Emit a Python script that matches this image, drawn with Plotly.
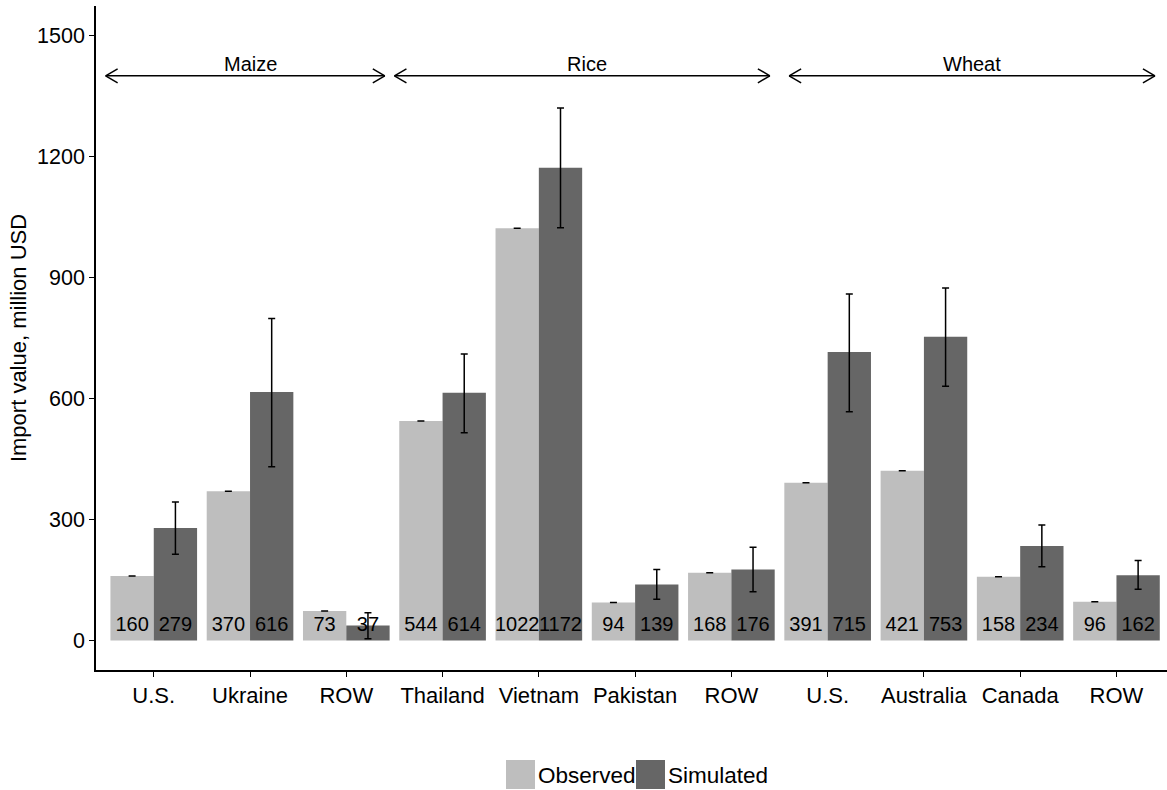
import plotly.graph_objects as go

# Import values (million USD) by crop and source country
crops = ["Maize", "Maize", "Maize", "Rice", "Rice", "Rice", "Rice",
         "Wheat", "Wheat", "Wheat", "Wheat"]
countries = ["U.S.", "Ukraine", "ROW", "Thailand", "Vietnam", "Pakistan", "ROW",
             "U.S.", "Australia", "Canada", "ROW"]
observed = [160, 370, 73, 544, 1022, 94, 168, 391, 421, 158, 96]
simulated = [279, 616, 37, 614, 1172, 139, 176, 715, 753, 234, 162]
sim_lower = [214, 431, 4, 515, 1023, 102, 121, 567, 630, 183, 127]
sim_upper = [343, 798, 69, 710, 1320, 176, 231, 859, 874, 286, 198]
y_ticks = [0, 300, 600, 900, 1200, 1500]

OBS_COLOR = "#BEBEBE"
SIM_COLOR = "#666666"
FONT = "Liberation Sans, Arial, sans-serif"

xpos = list(range(len(countries)))
bar_w = 0.45

fig = go.Figure()

fig.add_trace(go.Bar(
    x=xpos, y=observed, name="Observed", width=bar_w, offset=-bar_w,
    marker=dict(color=OBS_COLOR, line=dict(width=0)),
    error_y=dict(type="data", array=[0] * len(observed), color="black",
                 thickness=1.5, width=3.5),
    showlegend=False,
))
fig.add_trace(go.Bar(
    x=xpos, y=simulated, name="Simulated", width=bar_w, offset=0,
    marker=dict(color=SIM_COLOR, line=dict(width=0)),
    error_y=dict(type="data", symmetric=False,
                 array=[u - v for u, v in zip(sim_upper, simulated)],
                 arrayminus=[v - l for v, l in zip(simulated, sim_lower)],
                 color="black", thickness=1.5, width=3.5),
    showlegend=False,
))

# value labels near the base of each bar
label_y = 36
fig.add_trace(go.Scatter(
    x=[p - bar_w / 2 for p in xpos], y=[label_y] * len(observed),
    mode="text", text=[str(v) for v in observed],
    textfont=dict(family=FONT, size=20, color="black"),
    showlegend=False, hoverinfo="skip",
))
fig.add_trace(go.Scatter(
    x=[p + bar_w / 2 for p in xpos], y=[label_y] * len(simulated),
    mode="text", text=[str(v) for v in simulated],
    textfont=dict(family=FONT, size=20, color="black"),
    showlegend=False, hoverinfo="skip",
))

# crop group arrows with headers
arrow_y = 1400
groups = [("Maize", -0.5, 2.4, 1.0), ("Rice", 2.5, 6.4, 4.5), ("Wheat", 6.6, 10.4, 8.5)]
shapes = []
annotations = []
line_style = dict(color="black", width=1.5)
for name, x0, x1, xc in groups:
    shapes.append(dict(type="line", xref="x", yref="y", x0=x0, x1=x1,
                       y0=arrow_y, y1=arrow_y, line=line_style))
    for xe, d in ((x0, 1), (x1, -1)):
        for s in (1, -1):
            shapes.append(dict(type="line", xref="x", yref="y",
                               xsizemode="pixel", ysizemode="pixel",
                               xanchor=xe, yanchor=arrow_y,
                               x0=0, x1=12 * d, y0=0, y1=7 * s,
                               line=line_style))
    annotations.append(dict(x=xc, y=arrow_y, xref="x", yref="y", text=name,
                            showarrow=False, yanchor="bottom", yshift=-1,
                            font=dict(family=FONT, size=20, color="black")))

# legend keys drawn below the axis
W, H = 1167, 790
ml, mr, mt, mb = 96, 0, 6, 120
pw, ph = W - ml - mr, H - mt - mb


def px(x):
    return (x - ml) / pw


def py(y):
    return (H - mb - y) / ph


for (x0, label, col) in ((506, "Observed", OBS_COLOR), (636, "Simulated", SIM_COLOR)):
    shapes.append(dict(type="rect", xref="paper", yref="paper",
                       x0=px(x0), x1=px(x0 + 29), y0=py(789), y1=py(760),
                       fillcolor=col, line=dict(width=0)))
    annotations.append(dict(x=px(x0 + 30), y=py(775), xref="paper", yref="paper",
                            text=label, showarrow=False, xanchor="left",
                            yanchor="middle",
                            font=dict(family=FONT, size=22.5, color="black")))

fig.update_layout(
    width=W, height=H,
    margin=dict(l=ml, r=mr, t=mt, b=mb, pad=0),
    paper_bgcolor="white", plot_bgcolor="white",
    barmode="overlay",
    shapes=shapes, annotations=annotations,
    font=dict(family=FONT, color="black"),
    showlegend=False,
)
fig.update_xaxes(
    range=[-0.6, 10.525], tickmode="array", tickvals=xpos, ticktext=countries,
    showgrid=False, zeroline=False, showline=True, linecolor="black", linewidth=1.5,
    ticks="outside", ticklen=5, tickwidth=1.2, tickcolor="black",
    tickfont=dict(family=FONT, size=22, color="black"),
)
fig.update_yaxes(
    range=[-73.2, 1573], tickmode="array", tickvals=y_ticks,
    showgrid=False, zeroline=False, showline=True, linecolor="black", linewidth=1.5,
    ticks="outside", ticklen=5, tickwidth=1.2, tickcolor="black",
    tickfont=dict(family=FONT, size=21.5, color="black"),
    title=dict(text="Import value, million USD", standoff=4,
               font=dict(family=FONT, size=22, color="black")),
)

fig.write_html("out.html")
